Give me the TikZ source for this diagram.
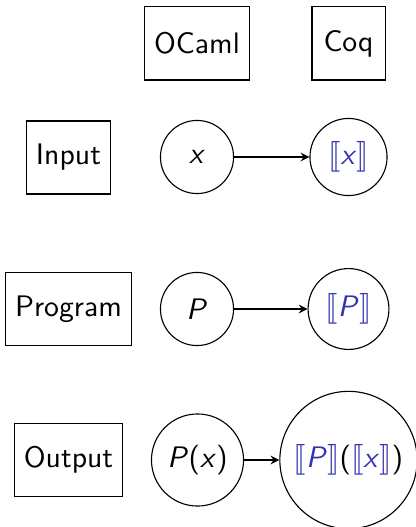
\documentclass[tikz,border=0pt]{standalone}
\usepackage{stmaryrd}
\usepackage{xcolor}
\usepackage{tikz}
\renewcommand{\familydefault}{\sfdefault}
\definecolor{semblue}{rgb}{0.2,0.2,0.7}
\newcommand{\vr}[1]{\textit{#1}}
\newcommand{\den}[1]{\textcolor{semblue}{$\llbracket$\vr{#1}$\rrbracket$}}

\begin{document}
\begin{tikzpicture}[>=stealth, x=0.357pt, y=-0.357pt,
    every node/.style={font=\fontsize{10.6}{12.7}\selectfont},
    lbl/.style={draw, minimum height=26.1pt, minimum width=26.1pt},
    val/.style={draw, circle, minimum size=26.1pt}]
    \useasboundingbox (0,0) rectangle (416,527);

    % 1. Column headers
    \node[lbl] (ocaml) at (197,43.5) {OCaml};
    \node[lbl] (coq) at (348.5,43.5) {Coq};

    % 2. Input row
    \node[lbl] (input) at (68.5,157.5) {Input};
    \node[val] (x) at (197,157) {\vr{x}};
    \node[val] (semx) at (348.5,157) {\den{x}};
    \draw[->] (x) -- (semx);

    % 3. Program row
    \node[lbl] (program) at (68.5,309) {Program};
    \node[val] (p) at (197,309) {\vr{P}};
    \node[val] (semp) at (348.5,309) {\den{P}};
    \draw[->] (p) -- (semp);

    % 4. Output row
    \node[lbl] (output) at (68.5,460) {Output};
    \node[val] (px) at (197.5,460) {\vr{P}(\vr{x})};
    \node[val, minimum size=47.8pt] (sempx) at (348.5,460) {\den{P}(\den{x})};
    \draw[->] (px) -- (sempx);

\end{tikzpicture}
\end{document}
